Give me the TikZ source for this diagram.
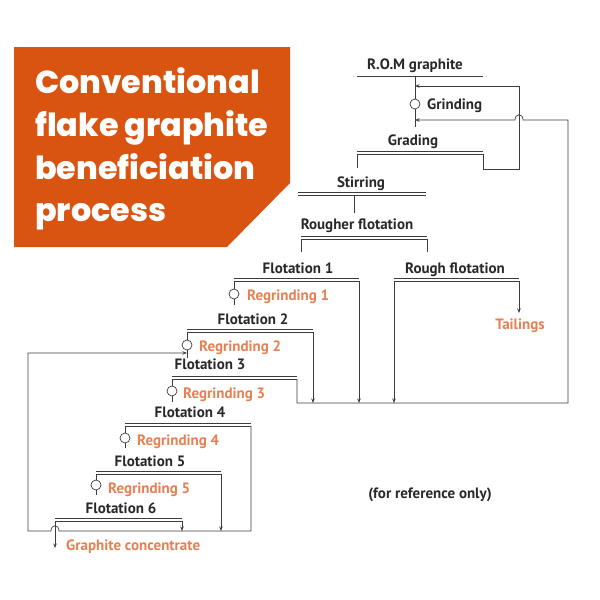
\documentclass[tikz,border=0pt]{standalone}
\usepackage{fontspec}
\setmainfont{PT Sans}
\newfontfamily\titlefont{Poppins ExtraBold}
\usetikzlibrary{arrows.meta}
\definecolor{titleorange}{RGB}{217,84,16}
\definecolor{stageorange}{RGB}{228,128,82}
\definecolor{flowgrey}{RGB}{60,60,60}
\definecolor{textgrey}{RGB}{40,40,40}
% two-line separator bar under a stage name
\newcommand{\dbar}[2]{%
  \draw[flow, line width=1pt] ([yshift=2.4pt]#1) -- ([yshift=2.4pt]#2);
  \draw[flow] (#1) -- (#2);}

\begin{document}
\begin{tikzpicture}[x=1pt, y=-1pt,
    lbl/.style={font=\bfseries\fontsize{15}{18}\selectfont, text=textgrey, inner sep=0pt, anchor=base},
    olbl/.style={lbl, text=stageorange, anchor=base west},
    ttl/.style={font=\titlefont\fontsize{31.8}{40}\selectfont, text=white,
                inner sep=0pt, anchor=base west},
    flow/.style={draw=flowgrey, line width=0.7pt},
    arr/.style={flow, -{Stealth[length=4.5pt,width=3.5pt]}},
    mill/.style={circle, draw=flowgrey, line width=0.7pt, fill=white,
                 minimum size=10pt, inner sep=0pt}
  ]
  \useasboundingbox (0,0) rectangle (600,600);

  % title block
  \fill[titleorange] (14,47) -- (290,47) -- (290,183) -- (227,247) -- (14,247) -- cycle;
  \node[ttl] (ttlA) at (35,93)  {Conventional};
  \node[ttl] (ttlB) at (35,136) {flake graphite};
  \node[ttl] (ttlC) at (35,179) {beneficiation};
  \node[ttl] (ttlD) at (35,221) {process};

  % labels
  \node[lbl] (rom)    at (415,69)  {R.O.M graphite};
  \node[lbl, anchor=base west] (grindT) at (427,109) {Grinding};
  \node[lbl] (grade)  at (413,145) {Grading};
  \node[lbl] (stir)   at (361,187) {Stirring};
  \node[lbl] (rough)  at (357,229) {Rougher flotation};
  \node[lbl] (flotA)  at (298,273) {Flotation 1};
  \node[lbl] (scav)   at (455,273) {Rough flotation};
  \node[lbl, text=stageorange] (tail) at (520,329) {Tailings};
  \node[olbl] (regA)  at (247,300) {Regrinding 1};
  \node[lbl] (flotB)  at (253,324) {Flotation 2};
  \node[olbl] (regB)  at (199,351) {Regrinding 2};
  \node[lbl] (flotC)  at (210,369) {Flotation 3};
  \node[olbl] (regC)  at (183,398) {Regrinding 3};
  \node[lbl] (flotD)  at (190,417) {Flotation 4};
  \node[olbl] (regD)  at (137,445) {Regrinding 4};
  \node[lbl] (flotE)  at (150,466) {Flotation 5};
  \node[olbl] (regE)  at (108,493) {Regrinding 5};
  \node[lbl] (flotF)  at (121,513) {Flotation 6};
  \node[olbl] (conc)  at (66,550)  {Graphite concentrate};
  \node[lbl] (note)   at (430,498) {(for reference only)};

  % mills
  \node[mill] (grind) at (415,104) {};
  \node[mill] (millA) at (234,294) {};
  \node[mill] (millB) at (187,345) {};
  \node[mill] (millC) at (172,391) {};
  \node[mill] (millD) at (125,438) {};
  \node[mill] (millE) at (96,485)  {};

  % bar ends (lower line)
  \coordinate (romL)   at (357,76);  \coordinate (romR)   at (483,76);
  \coordinate (gradeL) at (357,154); \coordinate (gradeR) at (483,154);
  \coordinate (stirL)  at (298,195); \coordinate (stirR)  at (426,195);
  \coordinate (roughL) at (301,239); \coordinate (roughR) at (427,239);
  \coordinate (flotAL) at (234,281); \coordinate (flotAR) at (359,281);
  \coordinate (scavL)  at (394,281); \coordinate (scavR)  at (519,281);
  \coordinate (flotBL) at (187,332); \coordinate (flotBR) at (313,332);
  \coordinate (flotCL) at (172,379); \coordinate (flotCR) at (297,379);
  \coordinate (flotDL) at (125,426); \coordinate (flotDR) at (251,426);
  \coordinate (flotEL) at (96,474);  \coordinate (flotER) at (221,474);
  \coordinate (flotFL) at (55,521);  \coordinate (flotFR) at (182,521);

  % feed and grinding circuit
  \draw[flow] (romL) -- (romR);
  \draw[flow] (415,76) -- (grind) -- (415,127);
  \draw[arr] (gradeR) -- (483,169) -- (519,169) -- (519,86) -- (415,86);
  \draw[flow] (gradeL) -- (357,168);
  \draw[flow] (354,195) -- (354,213);
  \draw[flow] (roughL) -- (301,252);
  \draw[flow] (roughR) -- (427,252);

  % middlings collector back to grinding
  \draw[arr] (flotCR) -- (297,403) -- (568,403) -- (568,120) -- (523,120)
    .. controls (523,113) and (515,113) .. (515,120) -- (415,120);
  \draw[arr] (flotAR) -- (359,403);
  \draw[arr] (flotBR) -- (313,403);
  \draw[arr] (scavL)  -- (394,403);
  \draw[arr] (scavR)  -- (519,313);

  % cleaning stages
  \draw[flow] (flotAL) -- (millA) -- (234,305);
  \draw[flow] (flotBL) -- (millB) -- (187,358);
  \draw[flow] (flotCL) -- (millC) -- (172,402);
  \draw[flow] (flotDL) -- (millD) -- (125,448);
  \draw[flow] (flotEL) -- (millE) -- (96,495);
  \draw[arr] (flotDR) -- (251,531) -- (59,531)
    .. controls (59,524) and (51,524) .. (51,531) -- (28,531) -- (28,353) -- (187,353);
  \draw[arr] (flotER) -- (221,531);
  \draw[arr] (flotFR) -- (182,531);
  \draw[arr] (flotFL) -- (55,548);

  % separator bars
  \dbar{gradeL}{gradeR}
  \dbar{stirL}{stirR}
  \dbar{roughL}{roughR}
  \dbar{flotAL}{flotAR}
  \dbar{scavL}{scavR}
  \dbar{flotBL}{flotBR}
  \dbar{flotCL}{flotCR}
  \dbar{flotDL}{flotDR}
  \dbar{flotEL}{flotER}
  \dbar{flotFL}{flotFR}
\end{tikzpicture}
\end{document}
